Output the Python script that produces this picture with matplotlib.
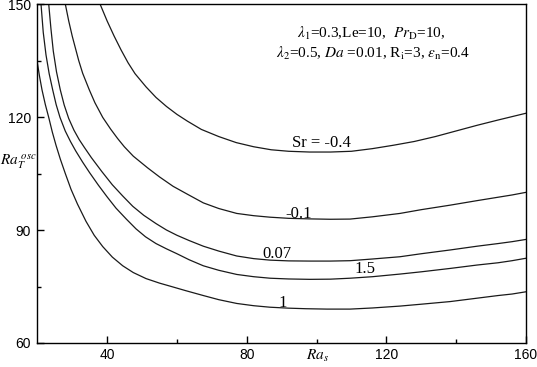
import matplotlib
matplotlib.use('Agg')
import matplotlib.pyplot as plt
from matplotlib.ticker import FixedLocator

plt.rcParams['font.family'] = ['Liberation Sans', 'DejaVu Sans']
plt.rcParams['mathtext.fontset'] = 'stix'

# values, Ra_s -> Ra_T^osc
# Sr = -0.4
ras_a = [37.97, 40, 42, 44, 46, 48, 51.15, 54, 57, 60, 63, 67, 72, 77, 82, 87, 92, 98, 104, 110,
         116, 122, 128, 134, 140, 146, 152, 156, 160]
rat_a = [150.0, 145.5, 141.5, 137.8, 134.4, 131.5, 128.0, 125.2, 122.8, 120.7, 118.9, 116.7, 114.8, 113.2, 112.1,
         111.3, 110.9, 110.7, 110.7, 110.9, 111.6, 112.5, 113.5, 114.8, 116.3, 117.8, 119.2, 120.1, 121.0]
# Sr = -0.1
ras_b = [28.02, 29, 30, 31, 31.86, 33, 34.9, 36.5, 38.74, 41, 43, 44.93, 47.5, 51.6, 55, 58.9, 63, 67.56, 72,
         77.13, 82, 86.68, 92, 98, 104, 109.6, 116, 123.9, 130, 138.3, 146, 152, 156, 160]
rat_b = [150.0, 145.5, 141.5, 138.0, 135.0, 131.6, 127.2, 123.8, 119.9, 116.8, 114.3, 112.1, 109.6, 106.5, 104.1,
         101.6, 99.5, 97.2, 95.7, 94.4, 93.8, 93.4, 93.1, 92.95, 92.85, 92.9, 93.5, 94.4, 95.4, 96.6, 97.8, 98.7,
         99.3, 100.0]
# Sr = 0.07
ras_c = [23.27, 23.9, 24.58, 25.5, 26.59, 27.7, 29.0, 30.5, 32.0, 33.5, 35.5, 38.5, 41.5, 44.5, 47.34, 50.5, 54.01,
         57, 60, 63.5, 67.56, 72, 77.13, 82, 86.68, 92, 98.14, 104, 109.6, 116, 123.9, 130, 138.3, 146, 152, 156, 160]
rat_c = [150.0, 143.5, 137.5, 132.0, 127.2, 123.2, 119.6, 116.5, 114.0, 111.9, 109.2, 105.5, 102.0, 99.0, 96.3,
         93.9, 91.7, 90.0, 88.6, 87.2, 85.7, 84.4, 83.1, 82.4, 82.0, 81.8, 81.75, 81.75, 81.85, 82.3, 82.9, 83.7,
         84.7, 85.7, 86.4, 86.9, 87.5]
# Sr = 1.5
ras_d = [21.06, 21.7, 22.49, 23.4, 24.41, 25.4, 26.5, 28.0, 29.5, 31.0, 33.0, 35.0, 37.5, 40, 42.55, 45.5, 48.28,
         51, 54, 57, 60, 63.5, 67.56, 72, 77.13, 82, 86.68, 92, 98.14, 104, 109.6, 116, 123.9, 130, 138.3, 146,
         152, 156, 160]
rat_d = [150.0, 142.5, 136.5, 131.5, 127.2, 123.3, 119.9, 116.3, 113.5, 111.0, 108.0, 105.2, 101.9, 98.8, 95.8,
         92.9, 90.3, 88.2, 86.4, 85.0, 83.7, 82.1, 80.5, 79.3, 78.2, 77.6, 77.2, 77.0, 76.9, 76.95, 77.2, 77.6,
         78.3, 78.9, 79.8, 80.7, 81.3, 81.85, 82.5]
# Sr = 1
ras_e = [20.0, 20.6, 21.35, 22.3, 23.27, 24.3, 25.36, 26.6, 28.02, 29.66, 31.5, 33.95, 36.3, 38.74, 41.5, 44.47,
         47.5, 51.15, 55, 58.02, 62.5, 67.56, 72, 77.13, 82, 86.68, 92, 97, 103, 109.6, 116, 123.9, 130, 138.3,
         146, 152, 156, 160]
rat_e = [134.5, 131.0, 127.2, 123.3, 119.9, 116.0, 112.5, 108.8, 105.0, 100.8, 96.9, 92.3, 88.6, 85.6, 82.8, 80.5,
         78.7, 77.1, 75.9, 75.1, 73.9, 72.6, 71.5, 70.5, 69.9, 69.5, 69.25, 69.1, 69.0, 69.0, 69.3, 69.8, 70.3,
         71.0, 71.9, 72.6, 73.0, 73.6]

sr_labels = ['Sr = -0.4', '-0.1', '0.07', '1.5', '1']
x_ticks = [40, 80, 120, 160]
y_ticks = [60, 90, 120, 150]

fig = plt.figure(figsize=(5.37, 3.67), dpi=100)
ax = fig.add_axes([37.3 / 537, 1 - 343 / 367, (526 - 37.3) / 537, (343 - 4) / 367])

for xs, ys in [(ras_a, rat_a), (ras_b, rat_b), (ras_c, rat_c), (ras_d, rat_d), (ras_e, rat_e)]:
    ax.plot(xs, ys, color='#1a1a1a', lw=0.9)

ax.set_xlim(20, 160)
ax.set_ylim(60, 150)
ax.xaxis.set_major_locator(FixedLocator(x_ticks))
ax.xaxis.set_minor_locator(FixedLocator([60, 100, 140]))
ax.yaxis.set_major_locator(FixedLocator(y_ticks))
ax.yaxis.set_minor_locator(FixedLocator([75, 105, 135]))
ax.tick_params(which='both', direction='in', top=False, right=False, width=1.0, labelsize=10)
ax.tick_params(which='major', length=4.8)
ax.tick_params(which='minor', length=2.9)
ax.tick_params(axis='x', pad=3.5)
ax.tick_params(axis='y', pad=4.5)
for s in ax.spines.values():
    s.set_linewidth(1.0)

# curve labels
serif = ['Liberation Serif', 'DejaVu Serif']
lab_pos = [(92.9, 112.0), (90.97, 93.1), (84.6, 82.5), (110.8, 78.66), (89.05, 69.5)]
for txt, (px, py) in zip(sr_labels, lab_pos):
    ax.text(px, py, txt, family=serif, fontsize=12, ha='left', va='baseline')

# parameter text
ax.text(115.8, 141.0, r'$\lambda_1$=0.3,Le=10,  $Pr_{\mathrm{D}}$=10,', family=serif,
        fontsize=11, ha='center', va='baseline')
ax.text(116.3, 135.7, r'$\lambda_2$=0.5, $Da$ =0.01, R$_{\mathrm{i}}$=3, $\epsilon_{\mathrm{n}}$=0.4', family=serif,
        fontsize=11, ha='center', va='baseline')

# axis labels
fig.text(0.5 / 537, 1 - 165 / 367, r'$Ra_T^{\ osc}$', fontsize=11, ha='left', va='baseline')
fig.text(318 / 537, 1 - 359.5 / 367, r'$Ra_s$', fontsize=11, ha='center', va='baseline')

fig.savefig('out.png', dpi=100)
